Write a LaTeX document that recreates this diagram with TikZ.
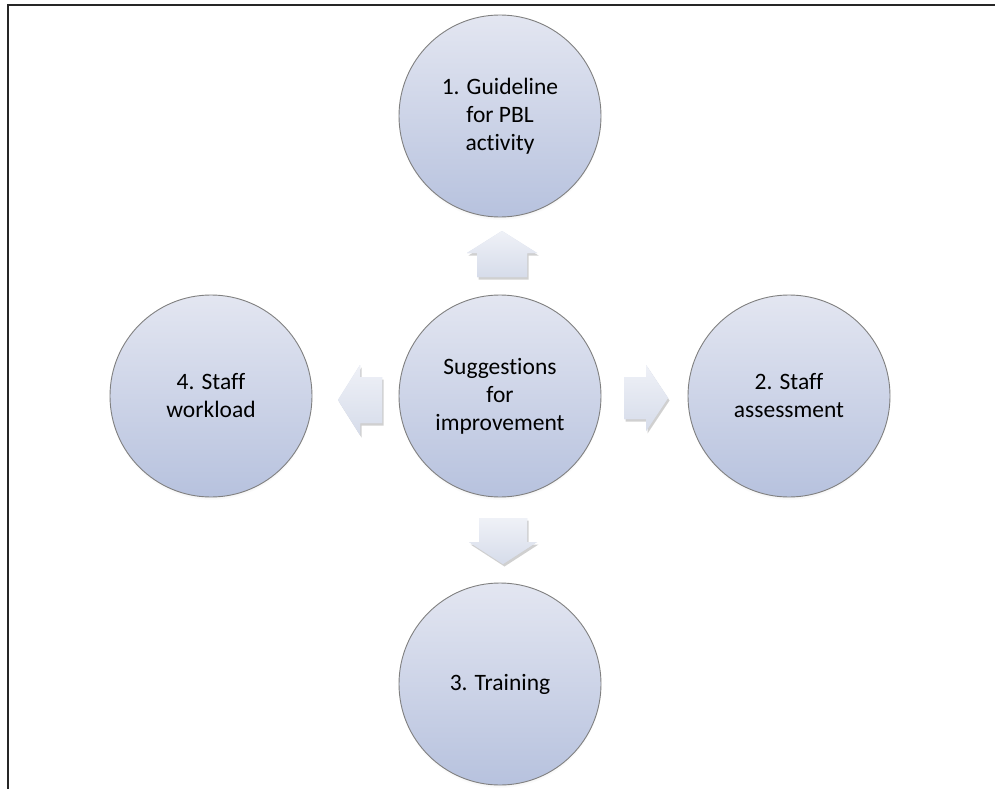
\documentclass[tikz,border=0pt]{standalone}
\usepackage{fontspec}
\setmainfont{Carlito}[Ligatures=NoCommon]
\usetikzlibrary{shadows,calc}
\definecolor{ctop}{HTML}{E3E6F1}
\definecolor{cbot}{HTML}{B7C2DE}
\definecolor{cedge}{HTML}{808080}
\definecolor{atop}{HTML}{EFF1F7}
\definecolor{abot}{HTML}{D6DCEA}
\tikzset{
  bubble/.style={circle, minimum size=202pt, inner sep=0pt, draw=cedge, line width=0.9pt,
    top color=ctop, bottom color=cbot, align=center,
    font=\fontsize{23.5}{28}\selectfont, text=black,
    circular drop shadow={shadow xshift=0pt, shadow yshift=-3pt, shadow scale=1.0, opacity=0.35}},
  blockarrow/.style={fill=abot, top color=atop, bottom color=abot, draw=none,
    drop shadow={shadow xshift=1.5pt, shadow yshift=-2.5pt, opacity=0.3, fill=black!60}},
  frameline/.style={line width=2pt, draw=black!85}
}
\begin{document}
\begin{tikzpicture}[x=1pt,y=-1pt]
\useasboundingbox (0,0) rectangle (995,789);
\fill[white] (0,0) rectangle (995,789);
\draw[frameline] (8,789) -- (8,5) -- (995,5);

\node[bubble] (c) at (500,396) {Suggestions\\for\\improvement};
\node[bubble] (t) at (500,116) {1. Guideline\\for PBL\\activity};
\node[bubble] (r) at (789,396) {2. Staff\\assessment};
\node[bubble] (b) at (500,684) {3. Training};
\node[bubble] (l) at (211,396) {4. Staff\\workload};

\coordinate (mu) at (502,254);
\coordinate (mr) at (646,398);
\coordinate (md) at (503,541);
\coordinate (ml) at (360,400);

% up arrow
\path[blockarrow, shift={(mu)}] (-25,23) -- (-25,-1) -- (-35,-1) -- (0,-23) -- (35,-1) -- (25,-1) -- (25,23) -- cycle;
% down arrow
\path[blockarrow, shift={(md)}] (-24,-23) -- (-24,1) -- (-34,1) -- (0,23) -- (34,1) -- (24,1) -- (24,-23) -- cycle;
% right arrow
\path[blockarrow, shift={(mr)}] (-22,-21) -- (0,-21) -- (0,-33) -- (22,0) -- (0,33) -- (0,21) -- (-22,21) -- cycle;
% left arrow
\path[blockarrow, shift={(ml)}] (22,-23) -- (0,-23) -- (0,-35) -- (-22,0) -- (0,35) -- (0,23) -- (22,23) -- cycle;
\end{tikzpicture}
\end{document}
